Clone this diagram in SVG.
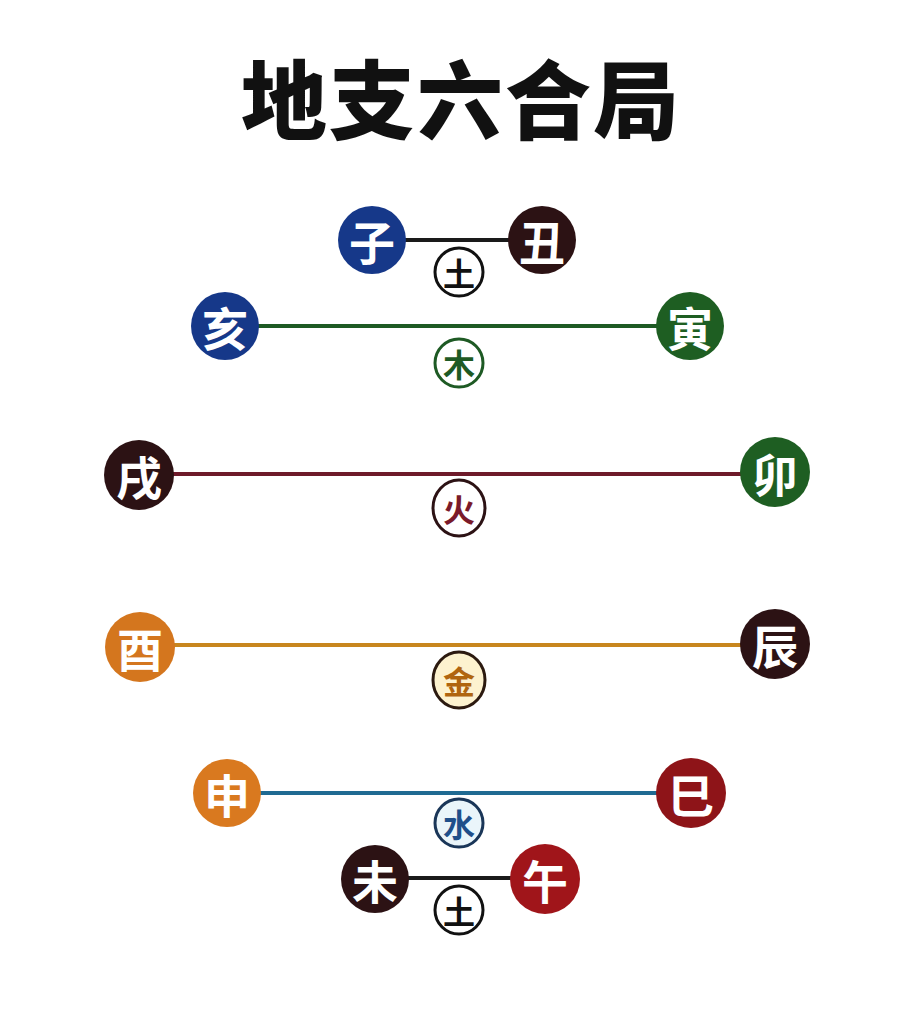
<svg xmlns="http://www.w3.org/2000/svg" width="924" height="1024" viewBox="0 0 924 1024">
<style>
.title{font-family:"Noto Sans CJK SC","Noto Sans CJK JP",sans-serif;font-size:86px;font-weight:900;fill:#111;text-anchor:middle}
.big{font-family:"Noto Sans CJK SC","Noto Sans CJK JP",sans-serif;font-size:46px;font-weight:700;fill:#fff;text-anchor:middle;dominant-baseline:central}
.sm{font-family:"Noto Sans CJK SC","Noto Sans CJK JP",sans-serif;font-size:32px;font-weight:700;text-anchor:middle;dominant-baseline:central}
.ring{stroke-width:3}
.link{stroke-width:4;fill:none}
</style>
<rect width="924" height="1024" fill="#ffffff"/>
<text class="title" x="461" y="133" letter-spacing="2">地支六合局</text>

<g id="connectors">
<line class="link" x1="372" y1="240" x2="542" y2="240" stroke="#1a1a1a"/>
<line class="link" x1="225" y1="326" x2="690" y2="326" stroke="#1e5a24"/>
<line class="link" x1="140" y1="474" x2="775" y2="474" stroke="#6e1a2a"/>
<line class="link" x1="140" y1="645" x2="775" y2="645" stroke="#c8861e"/>
<line class="link" x1="227" y1="793" x2="690" y2="793" stroke="#1f6a92"/>
<line class="link" x1="375" y1="878" x2="545" y2="878" stroke="#1a1a1a"/>
</g>

<g id="zi"><circle cx="372" cy="240" r="34" fill="#163889"/><text class="big" x="372" y="240">子</text></g>
<g id="chou"><circle cx="542" cy="240" r="34" fill="#2c1214"/><text class="big" x="542" y="240">丑</text></g>
<g id="tu1"><circle class="ring" cx="459" cy="272" r="24" fill="#fff" stroke="#111"/><text class="sm" x="459" y="272" fill="#111">土</text></g>

<g id="hai"><circle cx="225" cy="326" r="34" fill="#163889"/><text class="big" x="225" y="326">亥</text></g>
<g id="yin"><circle cx="690" cy="326" r="34" fill="#1e5e22"/><text class="big" x="690" y="326">寅</text></g>
<g id="mu"><circle class="ring" cx="459" cy="363" r="24" fill="#fff" stroke="#1e5a24"/><text class="sm" x="459" y="363" fill="#1e5a24">木</text></g>

<g id="xu"><circle cx="139" cy="475" r="35" fill="#2c1214"/><text class="big" x="139" y="475">戌</text></g>
<g id="mao"><circle cx="775" cy="472" r="35" fill="#1e5e22"/><text class="big" x="775" y="472">卯</text></g>
<g id="huo"><ellipse class="ring" cx="459" cy="508" rx="26" ry="28" fill="#fff" stroke="#2c1214"/><text class="sm" x="459" y="508" fill="#7a1a2a">火</text></g>

<g id="you"><circle cx="140" cy="647" r="35" fill="#d4761e"/><text class="big" x="140" y="647">酉</text></g>
<g id="chen"><circle cx="775" cy="644" r="35" fill="#2c1214"/><text class="big" x="775" y="644">辰</text></g>
<g id="jin"><ellipse class="ring" cx="459" cy="680" rx="26" ry="28" fill="#fdf2cf" stroke="#2c1a10"/><text class="sm" x="459" y="680" fill="#b0650f">金</text></g>

<g id="shen"><circle cx="227" cy="793" r="34" fill="#d9791f"/><text class="big" x="227" y="793">申</text></g>
<g id="si"><circle cx="691" cy="793" r="35" fill="#8e1418"/><text class="big" x="691" y="793">巳</text></g>
<g id="shui"><circle class="ring" cx="459" cy="823" r="24" fill="#eaf5fa" stroke="#1a3658"/><text class="sm" x="459" y="823" fill="#1f4f8a">水</text></g>

<g id="wei"><circle cx="375" cy="879" r="34" fill="#2c1214"/><text class="big" x="375" y="879">未</text></g>
<g id="wu"><circle cx="545" cy="879" r="35" fill="#a0151a"/><text class="big" x="545" y="879">午</text></g>
<g id="tu2"><circle class="ring" cx="459" cy="910" r="24" fill="#fff" stroke="#111"/><text class="sm" x="459" y="910" fill="#111">土</text></g>
</svg>
